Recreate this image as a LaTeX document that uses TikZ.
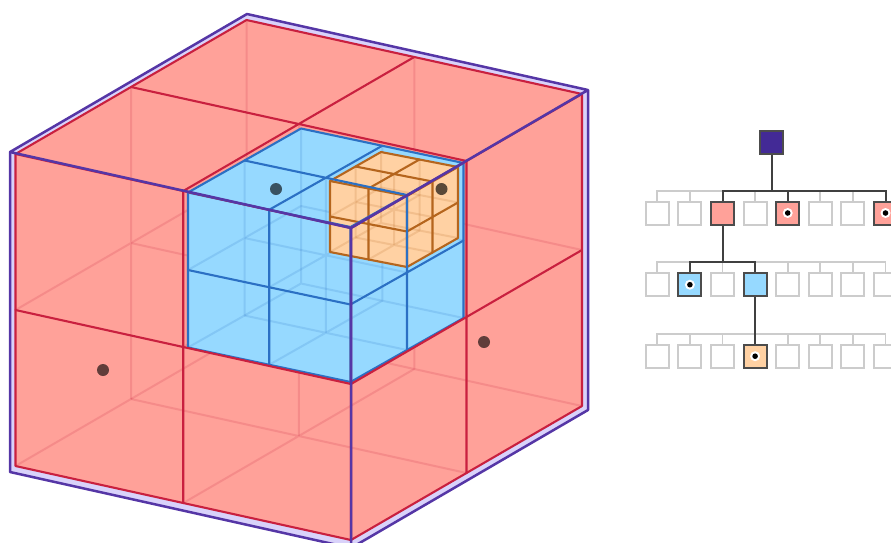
\documentclass[tikz,border=0pt]{standalone}
\usepackage{xcolor}
\usepackage{tikz}
\usetikzlibrary{positioning,calc}
\definecolor{rootC}{HTML}{432A96}
\definecolor{frameC}{HTML}{5536A6}
\definecolor{frameF}{HTML}{D9D2FA}
\definecolor{redF}{HTML}{FFA199}
\definecolor{redL}{HTML}{C9203F}
\definecolor{blueF}{HTML}{96D9FF}
\definecolor{blueL}{HTML}{2B70C4}
\definecolor{orF}{HTML}{FFD1A3}
\definecolor{orL}{HTML}{B5651D}
\newcommand{\cubeback}[2]{%
  \fill[#1] (1,0,0) -- (1,1,0) -- (0,1,0) -- (0,1,1) -- (0,0,1) -- (1,0,1) -- cycle;
  \foreach \a in {.5,1} \foreach \b in {.5,1} {
    \draw[#2, line width=2pt, opacity=.17] (0,\a,\b) -- (1,\a,\b) (\a,0,\b) -- (\a,1,\b) (\a,\b,0) -- (\a,\b,1);
  }
}
\newcommand{\cubefront}[1]{%
  \foreach \a in {0,.5,1} {
    \draw[#1, line width=2.1pt, line cap=round] (\a,0,0) -- (\a,1,0) (0,\a,0) -- (1,\a,0)
      (\a,0,0) -- (\a,0,1) (0,0,\a) -- (1,0,\a) (0,\a,0) -- (0,\a,1) (0,0,\a) -- (0,1,\a);
  }
}
\begin{document}
\begin{tikzpicture}[x=1pt, y=-1pt,
  redcube/.style={shift={(351,228)}, x={(-335.5pt,74pt)}, y={(231pt,134pt)}, z={(0pt,-312pt)}},
  bluecube/.style={shift={(350.5,227)}, x={(-162.5pt,34.5pt)}, y={(113pt,64pt)}, z={(0pt,-155pt)}},
  orcube/.style={shift={(407,196)}, x={(-77pt,15pt)}, y={(51pt,29pt)}, z={(0pt,-71pt)}},
  framecube/.style={shift={(351,228)}, x={(-341pt,76pt)}, y={(237pt,138pt)}, z={(0pt,-320pt)}},
  cell/.style={draw=black!20, line width=2pt, fill=white, minimum size=23pt, inner sep=0pt},
  on/.style={cell, draw=black!70},
  redcell/.style={on, fill=redF}, bluecell/.style={on, fill=blueF}, orcell/.style={on, fill=orF},
  rootcell/.style={on, fill=rootC},
  grayedge/.style={draw=black!20, line width=1.8pt},
  darkedge/.style={draw=black!75, line width=2pt}]
  \clip (0,0) rectangle (891,542);
  % nested cubes
  \begin{scope}[framecube]
    \fill[frameF] (1,0,0) -- (1,1,0) -- (0,1,0) -- (0,1,1) -- (0,0,1) -- (1,0,1) -- cycle;
  \end{scope}
  \begin{scope}[redcube]
    \cubeback{redF}{redL}
  \end{scope}
  \begin{scope}[bluecube]
    \cubeback{blueF}{blueL}
  \end{scope}
  \begin{scope}[orcube]
    \cubeback{orF}{orL}
    \cubefront{orL}
  \end{scope}
  \begin{scope}[bluecube]
    \cubefront{blueL}
  \end{scope}
  \begin{scope}[redcube]
    \cubefront{redL}
  \end{scope}
  \begin{scope}[framecube]
    \draw[frameC, line width=2.5pt, line join=round] (1,0,0) -- (1,1,0) -- (0,1,0) -- (0,1,1) -- (0,0,1) -- (1,0,1) -- cycle
      (1,0,0) -- (0,0,0) -- (0,1,0) (0,0,0) -- (0,0,1);
  \end{scope}
  \fill[black!62!blueF] (276,189) circle (6);
  \fill[black!65!orF] (441.5,189) circle (6);
  \fill[black!62!redF] (484,342) circle (6);
  \fill[black!62!redF] (103,370) circle (6);
  % tree
  \node[rootcell] (root) at (771.7,142.3) {};
  \foreach \i in {1,...,8} {
    \node[cell] (a\i) at ({657.3+32.6*(\i-1)},213) {};
    \node[cell] (b\i) at ({657.3+32.6*(\i-1)},284.7) {};
    \node[cell] (c\i) at ({657.3+32.6*(\i-1)},356.2) {};
  }
  \coordinate (busa) at (771.7,190.7);
  \coordinate (busb) at (722.5,262);
  \coordinate (busc) at (755.2,333.7);
  \foreach \i in {1,...,8} {
    \draw[grayedge] (busa) -| (a\i.north);
    \draw[grayedge] (busb) -| (b\i.north);
    \draw[grayedge] (busc) -| (c\i.north);
  }
  \node[redcell] at (a3) {};
  \node[redcell] at (a5) {};
  \node[redcell] at (a8) {};
  \node[bluecell] at (b2) {};
  \node[bluecell] at (b4) {};
  \node[orcell] at (c4) {};
  \draw[darkedge] (root.south) -- (busa);
  \foreach \c in {a3,a5,a8} \draw[darkedge] (busa) -| (\c.north);
  \draw[darkedge] (a3.south) -- (busb);
  \foreach \c in {b2,b4} \draw[darkedge] (busb) -| (\c.north);
  \draw[darkedge] (b4.south) -- (c4.north);
  \foreach \c in {a5,a8,b2,c4} {
    \fill[white] (\c) circle (5);
    \fill[black] (\c) circle (2.8);
  }
\end{tikzpicture}
\end{document}
